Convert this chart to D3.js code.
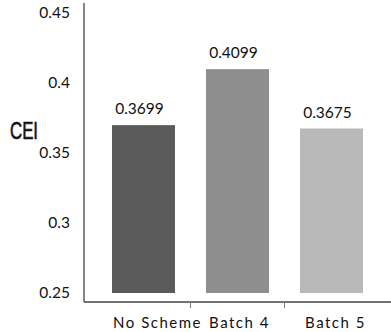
<!DOCTYPE html>
<html>
<head>
<meta charset="utf-8">
<script src="https://cdn.jsdelivr.net/npm/d3@7/dist/d3.min.js"></script>
<style>
  html, body { margin: 0; padding: 0; background: #fff; }
  svg { display: block; }
</style>
</head>
<body>
<svg id="chart" width="391" height="332"></svg>
<script>
// CEI per scheme
const categories = ["No Scheme", "Batch 4", "Batch 5"];
const ceiValues = [0.3699, 0.4099, 0.3675];
const valueLabels = ["0.3699", "0.4099", "0.3675"];
const yTickValues = [0.25, 0.3, 0.35, 0.4, 0.45];
const yTickLabels = ["0.25", "0.3", "0.35", "0.4", "0.45"];
const barColors = ["#5a5a5a", "#8e8e8e", "#b9b9b9"];

const svg = d3.select("#chart");
const W = 391, H = 332;

const axisX = 84, axisTop = 3, axisBottom = 302;

const x = d3.scaleBand()
  .domain(categories)
  .range([96.5, 378.5])
  .paddingInner(0.33)
  .paddingOuter(0.165);

const y = d3.scaleLinear()
  .domain([0.25, 0.45])
  .range([293, 13]);

// bars
svg.selectAll("rect.bar")
  .data(categories)
  .join("rect")
  .attr("class", "bar")
  .attr("x", d => x(d))
  .attr("width", x.bandwidth())
  .attr("y", (d, i) => y(ceiValues[i]))
  .attr("height", (d, i) => y(0.25) - y(ceiValues[i]))
  .attr("fill", (d, i) => barColors[i]);

// value labels above bars
svg.selectAll("text.val")
  .data(categories)
  .join("text")
  .attr("class", "val")
  .attr("x", (d, i) => x(d) + x.bandwidth() / 2 - 4)
  .attr("y", (d, i) => y(ceiValues[i]) - 11)
  .attr("text-anchor", "middle")
  .attr("font-family", "Lato, sans-serif")
  .attr("font-size", 15.5)
  .attr("fill", "#111")
  .text((d, i) => valueLabels[i]);

// y axis: labels only, plain line
const yAxis = d3.axisLeft(y)
  .tickValues(yTickValues)
  .tickFormat((d, i) => yTickLabels[i])
  .tickSize(0)
  .tickPadding(14);

const yg = svg.append("g")
  .attr("transform", `translate(${axisX},0)`)
  .call(yAxis);
yg.select(".domain").remove();
yg.selectAll("text")
  .attr("font-family", "Lato, sans-serif")
  .attr("font-size", 15.5)
  .attr("fill", "#111");

svg.append("line")
  .attr("x1", axisX).attr("x2", axisX)
  .attr("y1", axisTop).attr("y2", axisBottom)
  .attr("stroke", "#333").attr("stroke-width", 1.2);

// x axis baseline and category separators
svg.append("line")
  .attr("x1", axisX).attr("x2", W)
  .attr("y1", axisBottom).attr("y2", axisBottom)
  .attr("stroke", "#444").attr("stroke-width", 1.6);

const step = x.step();
svg.selectAll("line.sep")
  .data(categories.slice(0, -1))
  .join("line")
  .attr("class", "sep")
  .attr("x1", d => x(d) + x.bandwidth() / 2 + step / 2)
  .attr("x2", d => x(d) + x.bandwidth() / 2 + step / 2)
  .attr("y1", axisBottom)
  .attr("y2", axisBottom + 6)
  .attr("stroke", "#777").attr("stroke-width", 1);

// category labels
const labelNudge = [14, 2, 4];
svg.selectAll("text.cat")
  .data(categories)
  .join("text")
  .attr("class", "cat")
  .attr("x", (d, i) => x(d) + x.bandwidth() / 2 + labelNudge[i])
  .attr("y", 328)
  .attr("text-anchor", "middle")
  .attr("font-family", "Lato, sans-serif")
  .attr("font-size", 15)
  .attr("letter-spacing", 1.5)
  .attr("fill", "#111")
  .text(d => d);

// y axis title
svg.append("text")
  .attr("transform", "translate(10,139) scale(0.7,1)")
  .attr("font-family", "'Liberation Sans Narrow', sans-serif")
  .attr("font-size", 24)
  .attr("fill", "#111")
  .attr("stroke", "#111")
  .attr("stroke-width", 0.6)
  .text("CEI");
</script>
</body>
</html>
